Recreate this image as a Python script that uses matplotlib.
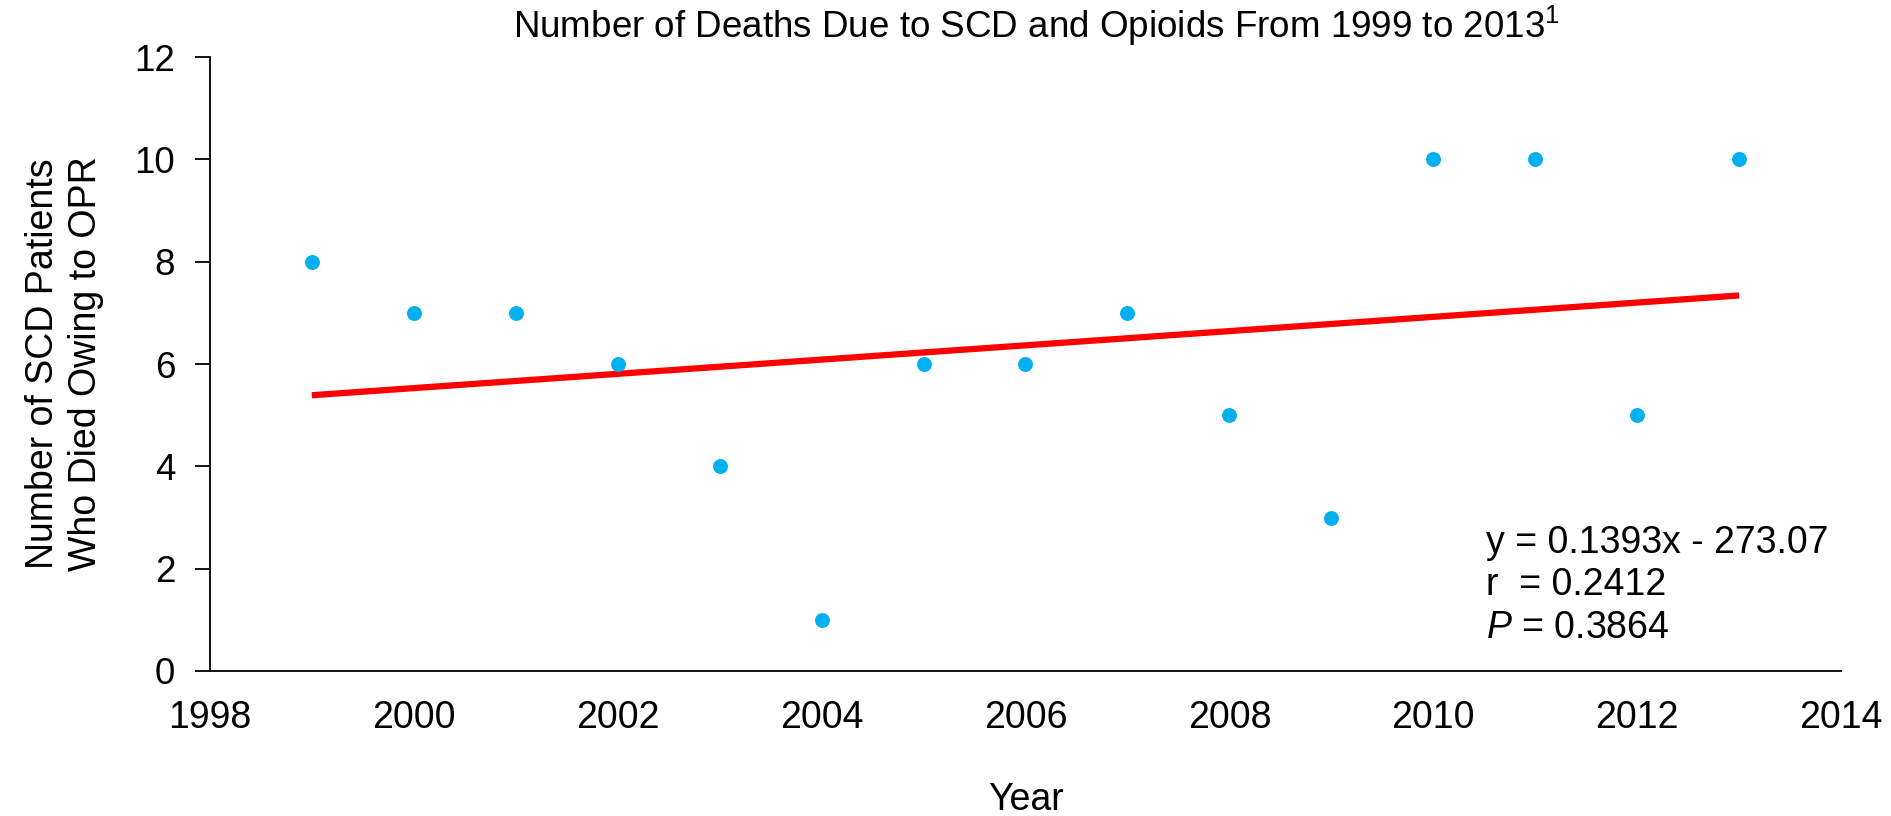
import matplotlib
matplotlib.use("Agg")
import matplotlib.pyplot as plt
import numpy as np

plt.rcParams['font.family'] = ['Liberation Sans', 'DejaVu Sans']
plt.rcParams['mathtext.fontset'] = 'custom'
plt.rcParams['mathtext.rm'] = 'Liberation Sans'
plt.rcParams['mathtext.it'] = 'Liberation Sans:italic'

# deaths per year (SCD patients, opioid related)
years = [1999, 2000, 2001, 2002, 2003, 2004, 2005, 2006, 2007, 2008, 2009, 2010, 2011, 2012, 2013]
deaths = [8, 7, 7, 6, 4, 1, 6, 6, 7, 5, 3, 10, 10, 5, 10]

# linear trend as reported
slope = 0.1393
intercept = -273.07
r_value = 0.2412
p_value = 0.3864

fig = plt.figure(figsize=(18.91, 8.16), dpi=100)
ax = fig.add_axes([0.111, 0.1777, 0.8626, 0.7523])

ax.scatter(years, deaths, s=115, color='#00B0F0', zorder=3, linewidths=0)

xs = np.array([years[0], years[-1]])
ax.plot(xs, slope * xs + intercept, color='#FF0000', lw=4.5, solid_capstyle='butt', zorder=2)

ax.set_xlim(1998, 2014)
ax.set_ylim(0, 12)
ax.set_xticks(range(1998, 2015, 2))
ax.set_yticks(range(0, 13, 2))

for side in ['top', 'right']:
    ax.spines[side].set_visible(False)
for side in ['left', 'bottom']:
    ax.spines[side].set_linewidth(1.3)

ax.tick_params(axis='y', direction='out', length=11, width=1.3, labelsize=26.5, pad=14)
ax.tick_params(axis='x', length=0, labelsize=27, pad=21)

ax.set_xlabel('Year', fontsize=27, labelpad=33)
ax.set_ylabel('Number of SCD Patients\nWho Died Owing to OPR', fontsize=27, labelpad=22,
              linespacing=1.25)

fig.text(0.548, 0.968,
         r'Number of Deaths Due to SCD and Opioids From 1999 to 2013$^{\mathregular{1}}$',
         ha='center', va='center', fontsize=26.5)

ann_x = 2010.52
ax.text(ann_x, 2.31, 'y = %.4fx - %.2f' % (slope, -intercept), fontsize=27, va='baseline')
ax.text(ann_x, 1.49, 'r  = %.4f' % r_value, fontsize=27, va='baseline')
ax.text(ann_x, 0.645, r'$\it{P}$' + ' = %.4f' % p_value, fontsize=27, va='baseline')

fig.savefig('out.png', dpi=100)
